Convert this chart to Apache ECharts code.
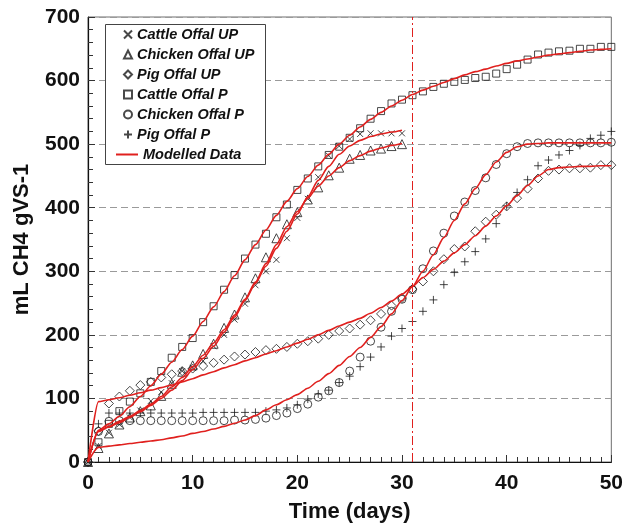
<!DOCTYPE html>
<html><head><meta charset="utf-8">
<script src="https://cdn.jsdelivr.net/npm/echarts@6/dist/echarts.min.js"></script>
<style>html,body{margin:0;padding:0;background:#fff}#c{width:626px;height:528px}</style>
</head><body><div id="c"></div>
<script>
const days = [0,1,2,3,4,5,6,7,8,9,10,11,12,13,14,15,16,17,18,19,20,21,22,23,24,25,26,27,28,29,30,31,32,33,34,35,36,37,38,39,40,41,42,43,44,45,46,47,48,49,50];
const xTicks = [0,10,20,30,40,50];
const yTicks = [0,100,200,300,400,500,600,700];
const dividerDay = 31;

const cattleUP = [0,25,46,59,70,81,96,110,124,143,148,159,182,200,224,249,278,300,318,352,384,414,448,482,497,508,516,517,517,517,517];
const chickenUP = [0,22,45,59,70,80,89,104,123,142,152,170,186,211,232,259,289,322,352,374,393,413,432,451,463,477,483,490,493,497,500];
const pigUP = [0,49,92,103,112,121,126,133,138,143,147,151,156,161,166,169,173,176,178,181,186,190,194,200,206,210,216,223,233,246,258,272,284,300,319,335,339,363,378,389,402,415,430,446,458,460,462,462,463,467,467];
const cattleP = [0,31,60,80,95,108,126,143,164,181,195,220,245,271,294,320,342,359,385,405,428,446,465,483,496,510,525,540,552,564,570,577,583,590,595,598,601,604,606,611,618,625,633,641,644,646,647,650,650,653,653];
const chickenP = [0,48,64,65,65,65,65,65,65,65,65,65,65,65,66,66,67,69,73,77,84,91,102,112,125,143,165,190,212,237,256,271,304,332,360,387,409,427,447,468,485,496,501,502,502,502,502,502,502,502,503];
const pigP = [0,60,77,77,77,77,77,77,77,77,77,78,78,78,78,78,78,80,82,85,90,99,107,113,125,135,150,165,181,198,210,221,237,255,279,298,315,331,351,375,403,424,444,466,475,483,490,498,509,514,520];

const modelCattleUP = [0,48,55,62,70,79,89,100,113,128,145,163,182,204,228,254,281,308,336,363,390,417,443,465,484,497,506,512,516,519,522];
const modelChickenUP = [0,48,56,64,72,81,91,103,118,133,150,168,187,208,231,256,283,312,342,370,394,415,434,450,463,474,482,489,494,498,501];
const modelPigUP = [0,95,98,101,105,109,113,117,121,126,131,137,142,148,153,159,164,170,175,181,187,193,200,207,214,220,226,234,243,253,264,276,290,303,316,329,342,356,371,387,403,419,435,450,460,463,464,465,465,466,466];
const modelCattleP = [0,50,60,72,87,103,120,138,157,177,198,221,244,268,293,318,342,365,388,410,430,449,467,484,500,514,527,539,550,560,569,578,585,591,597,603,609,614,618,623,627,631,634,637,640,642,644,646,648,649,650];
const modelChickenP = [0,23,25,27,29,31,33,35,38,41,45,48,52,56,61,66,73,82,90,98,106,116,127,139,152,166,180,196,213,233,254,276,300,326,353,380,406,430,452,472,487,496,500,501,502,502,502,502,502,502,502];

const pair = (vals) => vals.map((v, i) => [days[i], v]);
const ink = '#1a1a1a';
const red = '#e0201e';
const FONT = '"Liberation Sans", Arial, sans-serif';

function scatter(name, symbol, size, vals) {
  return {
    name, type: 'scatter', symbol, symbolSize: size, data: pair(vals),
    itemStyle: { color: 'rgba(0,0,0,0)', borderColor: ink, borderWidth: 1 },
    z: 3, silent: true
  };
}
function model(vals) {
  return {
    name: 'Modelled Data', type: 'line', data: pair(vals), showSymbol: false, symbol: 'none',
    smooth: 0.25, smoothMonotone: 'x', color: red,
    lineStyle: { color: red, width: 1.6 }, itemStyle: { color: red }, z: 4, silent: true
  };
}
const crossPath = 'path://M0,0L10,10M10,0L0,10';
const plusPath = 'path://M5,0L5,10M0,5L10,5';

const series = [
  scatter('Cattle Offal UP', crossPath, 6, cattleUP),
  scatter('Chicken Offal UP', 'triangle', 9, chickenUP),
  scatter('Pig Offal UP', 'diamond', 9, pigUP),
  scatter('Cattle Offal P', 'rect', 7, cattleP),
  scatter('Chicken Offal P', 'circle', 8, chickenP),
  scatter('Pig Offal P', plusPath, 8, pigP),
  model(modelCattleUP), model(modelChickenUP), model(modelPigUP), model(modelCattleP), model(modelChickenP),
  {
    name: 'divider', type: 'line', data: [], color: red, silent: true,
    lineStyle: { color: red }, itemStyle: { color: red },
    markLine: {
      symbol: 'none', silent: true, label: { show: false },
      lineStyle: { color: red, type: [9, 3, 2, 3], width: 1 },
      data: [{ xAxis: dividerDay }]
    }
  }
];

const legendText = { fontFamily: FONT, fontSize: 14.5, fontWeight: 'bold', fontStyle: 'italic', color: '#111' };

const chart = echarts.init(document.getElementById('c'), null, { renderer: 'canvas' });
chart.setOption({
  animation: false,
  backgroundColor: '#fff',
  grid: { left: 88, right: 10, top: 17, bottom: 63, show: true, borderColor: '#6e6e6e', borderWidth: 1 },
  graphic: [{
    type: 'rect', left: 105, top: 24, z: 50,
    shape: { width: 160, height: 140 },
    style: { fill: '#fff', stroke: '#444', lineWidth: 1 }
  }],
  legend: [{
    left: 123, top: 27, orient: 'vertical', z: 60, padding: 0,
    data: ['Cattle Offal UP','Chicken Offal UP','Pig Offal UP','Cattle Offal P','Chicken Offal P','Pig Offal P'],
    itemWidth: 8, itemHeight: 8, itemGap: 5, itemTextGap: 8, symbolKeepAspect: true,
    textStyle: legendText
  }, {
    left: 116, top: 147, orient: 'vertical', z: 60, padding: 0,
    data: [{ name: 'Modelled Data', icon: 'rect' }],
    itemWidth: 22, itemHeight: 2, itemTextGap: 2,
    itemStyle: { color: red },
    textStyle: legendText
  }],
  xAxis: {
    type: 'value', min: 0, max: 50, interval: 10,
    name: 'Time (days)', nameLocation: 'middle', nameGap: 39,
    nameTextStyle: { fontFamily: FONT, fontSize: 22, fontWeight: 'bold', color: '#111' },
    axisLine: { show: true, lineStyle: { color: '#111', width: 1.2 } },
    axisTick: { show: true, inside: true, length: 7, lineStyle: { color: '#333' } },
    minorTick: { show: true, splitNumber: 10, length: 5, lineStyle: { color: '#333' } },
    axisLabel: { fontFamily: FONT, fontSize: 21, fontWeight: 'bold', color: '#111', margin: 11,
      formatter: (v) => xTicks.includes(v) ? String(v) : '' },
    splitLine: { show: false }
  },
  yAxis: {
    type: 'value', min: 0, max: 700, interval: 100,
    name: 'mL CH4 gVS-1', nameLocation: 'middle', nameGap: 55,
    nameTextStyle: { fontFamily: FONT, fontSize: 22, fontWeight: 'bold', color: '#111' },
    axisLine: { show: true, lineStyle: { color: '#111', width: 1.2 } },
    axisTick: { show: true, inside: true, length: 7, lineStyle: { color: '#333' } },
    minorTick: { show: true, splitNumber: 5, length: 5, lineStyle: { color: '#333' } },
    axisLabel: { fontFamily: FONT, fontSize: 21, fontWeight: 'bold', color: '#111', margin: 8,
      formatter: (v) => yTicks.includes(v) ? String(v) : '' },
    splitLine: { show: true, lineStyle: { color: '#9a9a9a', type: [7, 4], width: 1 } }
  },
  series
});
</script></body></html>
